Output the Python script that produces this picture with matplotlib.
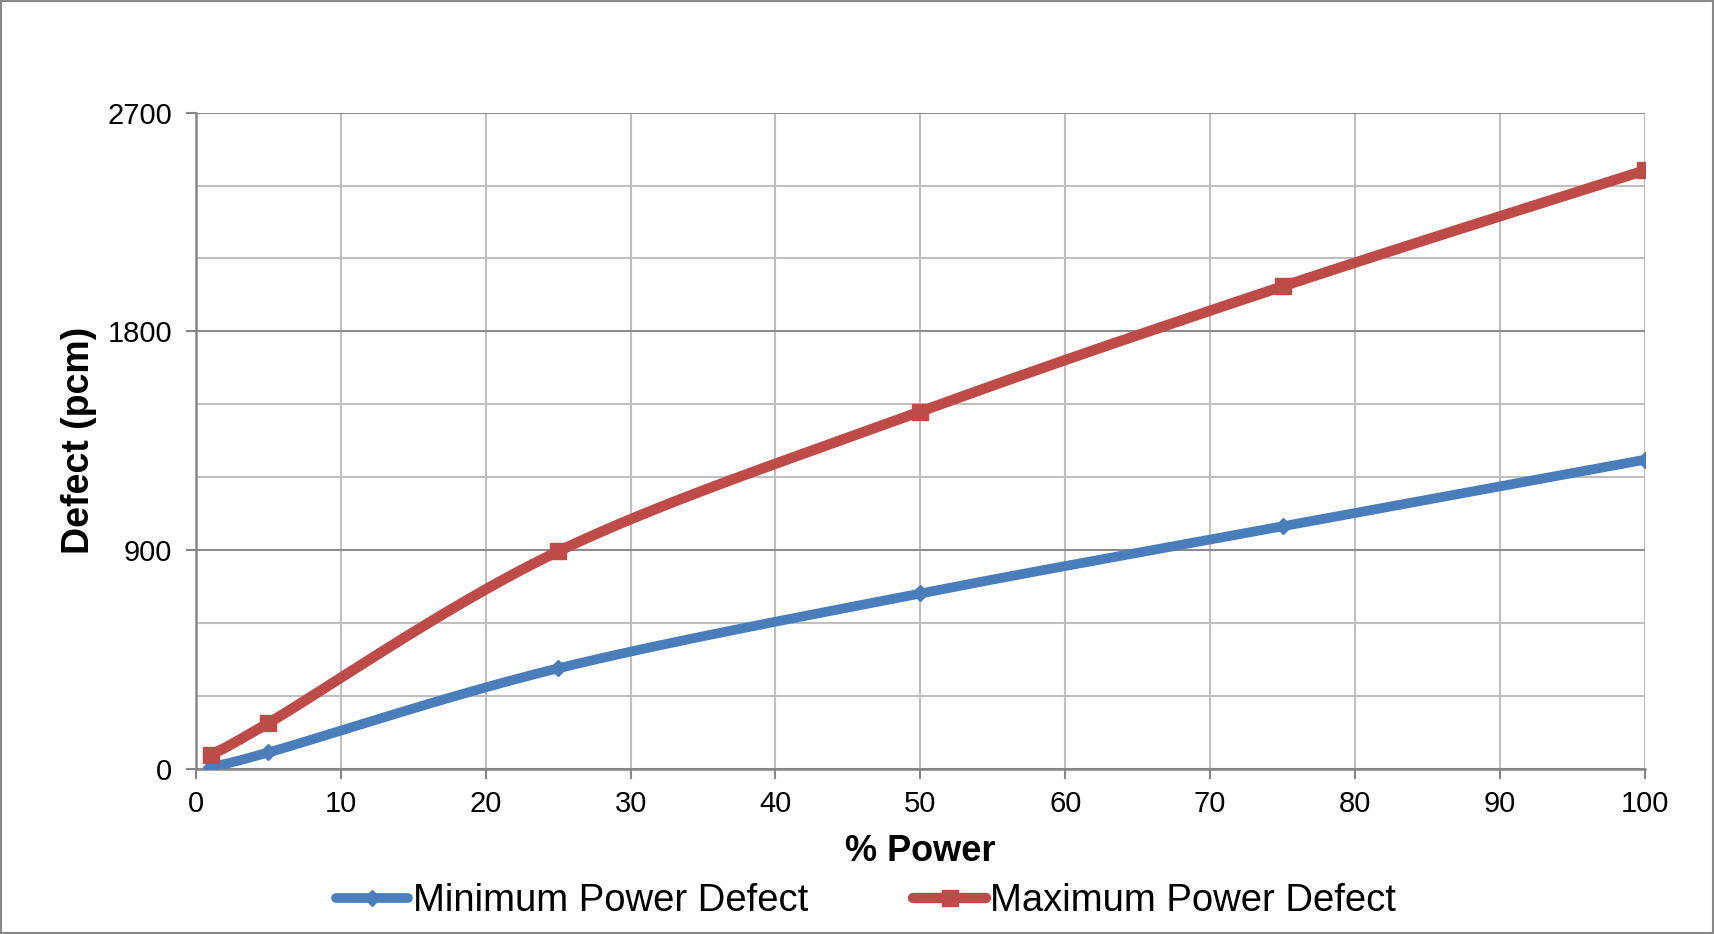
import numpy as np
import matplotlib
matplotlib.use("Agg")
import matplotlib.pyplot as plt
from matplotlib.patches import Rectangle
from matplotlib.lines import Line2D

power = [1, 5, 25, 50, 75, 100]
min_defect = [10, 68, 414, 722, 998, 1272]
max_defect = [58, 189, 895, 1470, 1985, 2462]

blue = '#4A7EBB'
red = '#BE4B48'

plt.rcParams['font.family'] = ['Liberation Sans', 'DejaVu Sans']


def smooth(xs, ys, n=40):
    # Excel-style smoothed line: cubic Bezier through the points
    p = np.column_stack([xs, ys]).astype(float)
    p = np.vstack([p[0], p, p[-1]])
    out = []
    for i in range(1, len(p) - 2):
        p0, p1, p2, p3 = p[i - 1], p[i], p[i + 1], p[i + 2]
        c1 = p1 + (p2 - p0) / 6
        c2 = p2 - (p3 - p1) / 6
        t = np.linspace(0, 1, n)[:, None]
        seg = ((1 - t) ** 3) * p1 + 3 * ((1 - t) ** 2) * t * c1 + 3 * (1 - t) * t ** 2 * c2 + t ** 3 * p2
        out.append(seg if i == 1 else seg[1:])
    seg = np.vstack(out)
    return seg[:, 0], seg[:, 1]


fig = plt.figure(figsize=(17.15, 9.34), dpi=100)
ax = fig.add_axes([0.1143, 0.1767, 0.8447, 0.7027])

ax.set_xlim(0, 100)
ax.set_ylim(0, 2700)
ax.set_xticks(np.arange(0, 101, 10))
ax.set_yticks([0, 900, 1800, 2700])
ax.set_yticks(np.arange(0, 2701, 300), minor=True)

ax.grid(which='minor', axis='y', color='#BFBFBF', lw=1.5, zorder=0)
ax.grid(which='major', axis='y', color='#8C8C8C', lw=1.5, zorder=0)
ax.grid(which='major', axis='x', color='#BFBFBF', lw=1.5, zorder=0)

for s in ['top', 'right']:
    ax.spines[s].set_visible(False)
for s in ['left', 'bottom']:
    ax.spines[s].set_color('#868686')
    ax.spines[s].set_linewidth(1.8)

ax.tick_params(axis='both', which='major', labelsize=21, length=7, width=1.5, color='#868686', pad=8)
ax.tick_params(axis='y', which='major', pad=10)
ax.tick_params(axis='y', which='minor', length=0)

sx, sy = smooth(power, min_defect)
ax.plot(sx, sy, color=blue, lw=7, solid_capstyle='round', zorder=3)
ax.plot(power, min_defect, ls='none', marker='D', ms=8, color=blue, zorder=4)

sx, sy = smooth(power, max_defect)
ax.plot(sx, sy, color=red, lw=7.5, solid_capstyle='round', zorder=3)
ax.plot(power, max_defect, ls='none', marker='s', ms=11.5, color=red, zorder=4)

ax.set_xlabel('% Power', fontsize=26, fontweight='bold', labelpad=12)
ax.set_ylabel('Defect (pcm)', fontsize=27, fontweight='bold', labelpad=8)

handles = [
    Line2D([], [], color=blue, lw=7, marker='D', ms=8, solid_capstyle='round'),
    Line2D([], [], color=red, lw=7.5, marker='s', ms=11.5, solid_capstyle='round'),
]
fig.legend(handles, ['Minimum Power Defect', 'Maximum Power Defect'],
           loc='center', bbox_to_anchor=(0.505, 0.035), ncol=2, frameon=False,
           fontsize=27.5, handlelength=1.9, handletextpad=0.12, columnspacing=2.75,
           markerscale=1)

fig.patches.append(Rectangle((0.0008, 0.001), 0.998, 0.998, transform=fig.transFigure,
                             fill=False, edgecolor='#888888', lw=1.5))

fig.savefig('out.png', dpi=100, facecolor='white')
